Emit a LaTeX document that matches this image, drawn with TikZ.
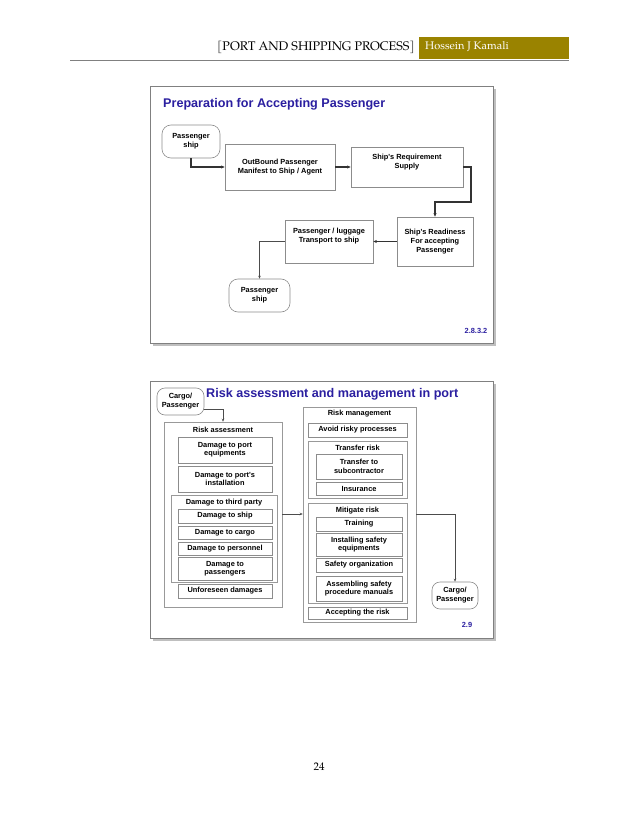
\documentclass[tikz,border=0pt]{standalone}
\usepackage{fontspec}
\setmainfont{Liberation Serif}
\newfontfamily\arial{Liberation Sans}
\newfontfamily\pal{TeX Gyre Pagella}
\usetikzlibrary{arrows.meta}
\definecolor{gold}{HTML}{9A8300}
\definecolor{ttl}{HTML}{2B1FA0}
\definecolor{hdr}{HTML}{444444}
\tikzset{
 x=1pt,y=-1pt,
 bx/.style={draw=black!45,line width=0.6pt,fill=white,inner sep=0pt,align=center,font=\arial\bfseries\fontsize{7.4}{9}\selectfont},
 grp/.style={draw=black!40,line width=0.5pt,fill=white},
 rnd/.style={bx,rounded corners=7pt},
 arr/.style={-{Stealth[length=3pt,width=2.5pt]},line width=0.5pt,draw=black!70},
 thk/.style={-{Stealth[length=3.5pt,width=3pt]},line width=1.1pt,draw=black!80},
 lbl/.style={font=\arial\bfseries\fontsize{7.4}{8.4}\selectfont,inner sep=0pt},
 frame/.style={draw=black!50,fill=white,line width=0.6pt}
}
\newcommand{\bxat}[6]{\node[#6,minimum width=#3-#1,minimum height=#4-#2] (#5) at ({(#1+#3)/2},{(#2+#4)/2}) {};}
\begin{document}
\begin{tikzpicture}
\useasboundingbox (0,0) rectangle (638,826);
\fill[white] (0,0) rectangle (638,826);
% header
\node[font=\pal\fontsize{12.5}{14}\selectfont,anchor=east,inner sep=0pt] (h1) at (415,47) {\textcolor{hdr}{[}PORT AND SHIPPING PROCESS\textcolor{hdr}{]}};
\fill[gold] (419,37) rectangle (569,59);
\node[font=\pal\fontsize{11}{13}\selectfont,text=white,anchor=west,inner sep=0pt] (h2) at (425,47) {Hossein J Kamali};
\draw[black!50,line width=0.7pt] (70,60) -- (569,60);
\node[font=\pal\fontsize{11}{13}\selectfont] (pg) at (319,767) {24};
% slide 1
\fill[black!25] (153,89) rectangle (496,346);
\draw[frame] (150,86) rectangle (493,343);
\node[anchor=west,font=\arial\bfseries\fontsize{12.6}{14}\selectfont,text=ttl,inner sep=0pt] (t1) at (163,104) {Preparation for Accepting Passenger};
\node[bx,rounded corners=9pt,minimum width=58,minimum height=33] (s1) at (191,141.5) {Passenger\\ship};
\node[bx,minimum width=110,minimum height=46] (ob) at (280,167) {OutBound Passenger\\Manifest to Ship / Agent};
\node[bx,minimum width=112,minimum height=40] (rq) at (407,167) {Ship's Requirement\\Supply\\[3pt]};
\node[bx,minimum width=76,minimum height=49] (rd) at (435,241.5) {Ship's Readiness\\For accepting\\Passenger};
\node[bx,minimum width=88,minimum height=43] (lg) at (329,241.5) {Passenger / luggage\\Transport to ship\\[4pt]};
\node[bx,rounded corners=9pt,minimum width=61,minimum height=33] (s2) at (259.5,295.5) {Passenger\\ship};
\node[lbl,text=ttl] (n1) at (476,331) {2.8.3.2};
\draw[thk] (s1.south) |- (ob.west);
\draw[thk] (ob.east) -- (rq.west);
\draw[thk] (rq.east) -- (471,167) -- (471,202) -- (435,202) -- (rd.north);
\draw[thk] (rd.west) -- (lg.east);
\draw[arr] (lg.west) -| (s2.north);
% slide 2
\fill[black!25] (153,384) rectangle (496,641);
\draw[frame] (150,381) rectangle (493,638);
\node[anchor=west,font=\arial\bfseries\fontsize{12.6}{14}\selectfont,text=ttl,inner sep=0pt] (t2) at (206,394.5) {Risk assessment and management in port};
\node[bx,rounded corners=8pt,minimum width=47,minimum height=27] (c1) at (180.5,401.5) {Cargo/\\Passenger};
\bxat{164}{422}{282}{607}{ra}{grp}
\node[lbl] (ral) at (223,429.5) {Risk assessment};
\bxat{178}{437}{272}{463}{d1}{bx}
\node[lbl,align=center] at (d1) {Damage to port\\equipments};
\bxat{178}{466}{272}{492}{d2}{bx}
\node[lbl,align=center] at (d2) {Damage to port's\\installation};
\bxat{171}{495}{277}{582}{tp}{grp}
\node[lbl] (tpl) at (224,503) {Damage to third party};
\bxat{178}{509}{272}{523}{d3}{bx}
\node[lbl] at (d3) {Damage to ship};
\bxat{178}{526}{272}{539}{d4}{bx}
\node[lbl] at (d4) {Damage to cargo};
\bxat{178}{542}{272}{555}{d5}{bx}
\node[lbl] at (d5) {Damage to personnel};
\bxat{178}{557}{272}{580}{d6}{bx}
\node[lbl,align=center] at (d6) {Damage to\\passengers};
\bxat{178}{584}{272}{598}{d7}{bx}
\node[lbl] at (d7) {Unforeseen damages};
\bxat{303}{407}{416}{622}{rm}{grp}
\node[lbl] (rml) at (359.5,413.5) {Risk management};
\bxat{308}{423}{407}{437}{m1}{bx}
\node[lbl] at (m1) {Avoid risky processes};
\bxat{308}{441}{407}{498}{tr}{grp}
\node[lbl] (trl) at (357.5,448) {Transfer risk};
\bxat{316}{454}{402}{479}{m2}{bx}
\node[lbl,align=center] at (m2) {Transfer to\\subcontractor};
\bxat{316}{482}{402}{495}{m3}{bx}
\node[lbl] at (m3) {Insurance};
\bxat{308}{503}{407}{603}{mg}{grp}
\node[lbl] (mgl) at (357.5,511) {Mitigate risk};
\bxat{316}{517}{402}{531}{m4}{bx}
\node[lbl] at (m4) {Training};
\bxat{316}{533}{402}{556}{m5}{bx}
\node[lbl,align=center] at (m5) {Installing safety\\equipments};
\bxat{316}{558}{402}{572}{m6}{bx}
\node[lbl] at (m6) {Safety organization};
\bxat{316}{576}{402}{601}{m7}{bx}
\node[lbl,align=center] at (m7) {Assembling safety\\procedure manuals};
\bxat{308}{607}{407}{619}{m8}{bx}
\node[lbl] at (m8) {Accepting the risk};
\node[bx,rounded corners=8pt,minimum width=46,minimum height=27] (c2) at (455,595.5) {Cargo/\\Passenger};
\node[lbl,text=ttl] (n2) at (467,625) {2.9};
\draw[arr] (c1.east |- 0,409) -- (223,409) -- (ra.north -| 223,0);
\draw[arr] (ra.east |- 0,514) -- (rm.west |- 0,514);
\draw[arr] (rm.east |- 0,514) -| (c2.north);
\end{tikzpicture}
\end{document}
